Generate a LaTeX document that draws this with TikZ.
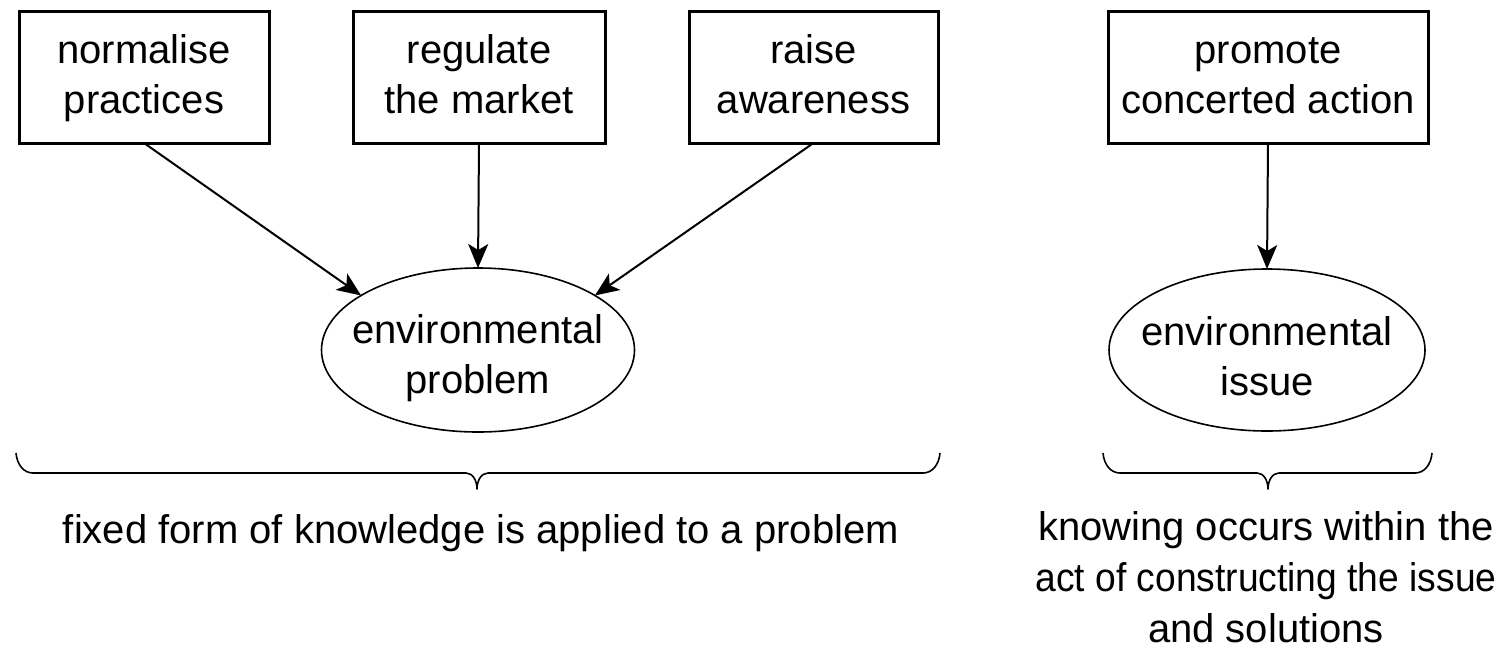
\documentclass[tikz,border=0pt]{standalone}
\usepackage{fontspec}
\usepackage{graphicx}
\setmainfont{Liberation Sans}
\usetikzlibrary{arrows.meta,shapes.geometric}
\newcommand\bstrut{\rule[-14pt]{0pt}{50pt}}
\newcommand\estrut{\rule[-5pt]{0pt}{50pt}}
\newcommand\lstrut{\rule[-14pt]{0pt}{51pt}}
\newcommand\lastrut{\rule{0pt}{37pt}}
\begin{document}
\begin{tikzpicture}[x=1pt,y=-1pt,
  every node/.style={font=\fontsize{40}{50}\selectfont, inner sep=0pt, outer sep=0pt, align=center},
  box/.style={draw, line width=3pt, minimum height=132pt},
  oval/.style={draw, ellipse, line width=1.6pt, inner xsep=-80pt, inner ysep=-40pt},
  arr/.style={line width=2pt, -{Stealth[length=24pt,width=20pt,inset=6pt]}},
  brc/.style={line width=1.6pt, line join=round},
]
\useasboundingbox (0,0) rectangle (1501,649);
\node[box, minimum width=250pt] (b1) at (144,77) {\bstrut normalise\\\bstrut practices};
\node[box, minimum width=252pt] (b2) at (479,77) {\bstrut regulate\\\bstrut the market};
\node[box, minimum width=249pt] (b3) at (813.5,77) {\bstrut raise\\\bstrut awareness};
\node[box, minimum width=320pt] (b4) at (1268,77) {\bstrut promote\\\bstrut concerted action};
\node[oval, minimum width=313pt, minimum height=164pt] (e1) at (478,350) {\estrut environmental\\\estrut problem};
\node[oval, minimum width=316pt, minimum height=162pt] (e2) at (1267,350) {\estrut environmental\\\estrut issue};
\node (l1) at (481,532) {\bstrut fixed form of knowledge is applied to a problem};
\node[font=\fontsize{40}{51}\selectfont] (l2) at (1266,573.5) {\lstrut knowing occurs within the\\\lstrut \scalebox{0.93}[1]{act of constructing the issue}\\\lastrut and solutions};
\coordinate (bA) at (16,453);
\coordinate (tA) at (477,489);
\coordinate (bB) at (940,453);
\coordinate (bC) at (1103,453);
\coordinate (tC) at (1268,489);
\coordinate (bD) at (1432,453);
\draw[brc] (bA) .. controls +(1,12) and +(-9,0) .. (33,473) -- (466,473)
  .. controls +(7,0) and +(0,-8) .. (tA)
  .. controls +(0,-8) and +(-7,0) .. (488,473) -- (923,473)
  .. controls +(9,0) and +(-1,12) .. (bB);
\draw[brc] (bC) .. controls +(1,12) and +(-9,0) .. (1120,473) -- (1257,473)
  .. controls +(7,0) and +(0,-8) .. (tC)
  .. controls +(0,-8) and +(-7,0) .. (1279,473) -- (1415,473)
  .. controls +(9,0) and +(-1,12) .. (bD);
\draw[arr] (b1.south) -- (e1.155);
\draw[arr] (b2.south) -- (e1.north);
\draw[arr] (b3.south) -- (e1.25);
\draw[arr] (b4.south) -- (e2.north);
\end{tikzpicture}
\end{document}
